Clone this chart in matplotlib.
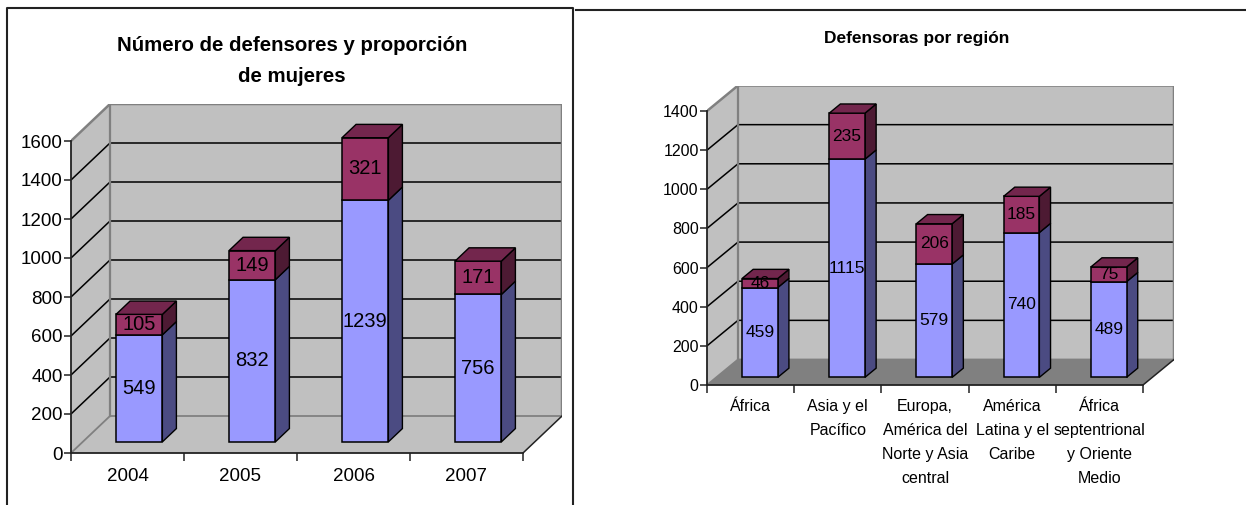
import matplotlib
matplotlib.use("Agg")
import matplotlib.pyplot as plt
from matplotlib.patches import Polygon, Rectangle
from matplotlib.lines import Line2D

plt.rcParams['font.family'] = ['Liberation Sans', 'DejaVu Sans']

# ---------------- data ----------------
years = ['2004', '2005', '2006', '2007']
defensores_base = [549, 832, 1239, 756]
defensores_mujeres = [105, 149, 321, 171]
left_ticks = [0, 200, 400, 600, 800, 1000, 1200, 1400, 1600]

regions = ['África', 'Asia y el\nPacífico', 'Europa,\nAmérica del\nNorte y Asia\ncentral',
           'América\nLatina y el\nCaribe', 'África\nseptentrional\ny Oriente\nMedio']
region_base = [459, 1115, 579, 740, 489]
region_top = [46, 235, 206, 185, 75]
right_ticks = [0, 200, 400, 600, 800, 1000, 1200, 1400]

# ---------------- style ----------------
W, H = 1246, 505
WALL = '#C0C0C0'
EDGE = '#808080'
BLUE, BLUE_SIDE = '#9999FF', '#4B4B82'
PURP, PURP_SIDE, PURP_TOP = '#993366', '#4D1A33', '#73264D'

fig = plt.figure(figsize=(W / 100, H / 100), dpi=100)
fig.patch.set_facecolor('white')


def px_axes(x0, y0, x1, y1):
    return fig.add_axes([x0 / W, 1 - y1 / H, (x1 - x0) / W, (y1 - y0) / H])


def draw(ax, cats, lower, upper, ticks, Dx, Dy, floor_col, tick_fs, cat_fs, val_fs, xl_pad, linesp):
    n = len(cats)
    ymax = ticks[-1]
    x0, x1 = -0.5, n - 0.5
    ax.set_xlim(x0, x1 + Dx)
    ax.set_ylim(0, ymax + Dy)
    ax.set_facecolor('none')
    for s in ['top', 'right']:
        ax.spines[s].set_visible(False)
    # walls / floor
    ax.add_patch(Polygon([(x0, 0), (x0 + Dx, Dy), (x0 + Dx, ymax + Dy), (x0, ymax)],
                         closed=True, fc=WALL, ec='none', zorder=1))
    ax.add_patch(Rectangle((x0 + Dx, Dy), n, ymax, fc=WALL, ec='none', zorder=1))
    ax.add_patch(Polygon([(x0, 0), (x1, 0), (x1 + Dx, Dy), (x0 + Dx, Dy)],
                         closed=True, fc=floor_col, ec='none', zorder=1))
    # gridlines
    for v in ticks[1:-1]:
        ax.plot([x0, x0 + Dx, x1 + Dx], [v, v + Dy, v + Dy], color='black', lw=1.1,
                zorder=2, solid_capstyle='butt')
    # wall borders
    ax.plot([x0, x0 + Dx, x1 + Dx, x1 + Dx], [ymax, ymax + Dy, ymax + Dy, Dy],
            color=EDGE, lw=1.8, zorder=3, solid_joinstyle='miter')
    ax.plot([x0 + Dx, x0 + Dx], [Dy, ymax + Dy], color=EDGE, lw=1.6, zorder=3)
    ax.plot([x0, x0 + Dx, x1 + Dx], [0, Dy, Dy], color=EDGE, lw=1.3, zorder=3)
    ax.plot([x1, x1 + Dx], [0, Dy], color='#222222', lw=1.1, zorder=3)

    # bars
    d0, d1 = 0.30, 0.66
    w = 0.41
    ddx, ddy = (d1 - d0) * Dx, (d1 - d0) * Dy
    for i in range(n):
        bx = i - w / 2 + d0 * Dx
        by = d0 * Dy
        base = 0
        for h, fc, sc in [(lower[i], BLUE, BLUE_SIDE), (upper[i], PURP, PURP_SIDE)]:
            ax.add_patch(Polygon([(bx + w, by + base), (bx + w + ddx, by + ddy + base),
                                  (bx + w + ddx, by + ddy + base + h), (bx + w, by + base + h)],
                                 closed=True, fc=sc, ec='black', lw=1.0, zorder=4))
            ax.add_patch(Rectangle((bx, by + base), w, h, fc=fc, ec='black', lw=1.1, zorder=5))
            ax.text(bx + w / 2, by + base + h / 2, str(h), ha='center', va='center',
                    fontsize=val_fs, color='black', zorder=7)
            base += h
        ax.add_patch(Polygon([(bx, by + base), (bx + w, by + base),
                              (bx + w + ddx, by + ddy + base), (bx + ddx, by + ddy + base)],
                             closed=True, fc=PURP_TOP, ec='black', lw=1.0, zorder=6))

    # axes
    ax.spines['left'].set_bounds(0, ymax)
    ax.spines['bottom'].set_bounds(x0, x1)
    for s in ['left', 'bottom']:
        ax.spines[s].set_color('#222222')
        ax.spines[s].set_linewidth(1.3)
        ax.spines[s].set_zorder(8)
    ax.set_yticks(ticks)
    ax.set_yticklabels([str(t) for t in ticks])
    ax.tick_params(axis='y', length=5, width=1.1, color='#222222', labelsize=tick_fs, pad=1)
    ax.set_xticks([k - 0.5 for k in range(n + 1)])
    ax.set_xticklabels([])
    ax.set_xticks(list(range(n)), minor=True)
    ax.set_xticklabels(cats, minor=True, fontsize=cat_fs, linespacing=linesp, va='top')
    ax.tick_params(axis='x', which='major', length=6, width=1.1, color='#222222')
    ax.tick_params(axis='x', which='minor', length=0, pad=xl_pad)


# left chart: front axis x 71..523, y0=453, 0.195 px/unit, depth 39x37 px
sy_l = 0.195
Dx_l, Dy_l = 39 / 113, 37 / sy_l
axL = px_axes(71, 453 - (1600 + Dy_l) * sy_l, 71 + (4 + Dx_l) * 113, 453)
draw(axL, years, defensores_base, defensores_mujeres, left_ticks, Dx_l, Dy_l, WALL,
     13.5, 13.5, 14.5, 11, 1.2)

# right chart: front axis x 707..1143, y0=385, 0.1957 px/unit, depth 31x25.5 px
sy_r = 0.1957
cw_r = 436 / 5
Dx_r, Dy_r = 31 / cw_r, 25.5 / sy_r
axR = px_axes(707, 385 - (1400 + Dy_r) * sy_r, 707 + (5 + Dx_r) * cw_r, 385)
draw(axR, regions, region_base, region_top, right_ticks, Dx_r, Dy_r, '#808080',
     11.5, 11.5, 12.5, 10, 1.75)

# titles
fig.text(292 / W, 1 - 61 / H, 'Número de defensores y proporción\nde mujeres', ha='center',
         va='center', fontsize=14.7, fontweight='bold', linespacing=1.8)
fig.text(917 / W, 1 - 38 / H, 'Defensoras por región', ha='center', va='center',
         fontsize=12.5, fontweight='bold')

# panel borders
fig.add_artist(Line2D([7 / W, 7 / W, 573 / W, 573 / W], [0, 1 - 8 / H, 1 - 8 / H, 0],
                      color='#222222', lw=1.5, transform=fig.transFigure))
fig.add_artist(Line2D([576 / W, 1], [1 - 10 / H, 1 - 10 / H],
                      color='#222222', lw=1.5, transform=fig.transFigure))

fig.savefig('out.png', dpi=100)
